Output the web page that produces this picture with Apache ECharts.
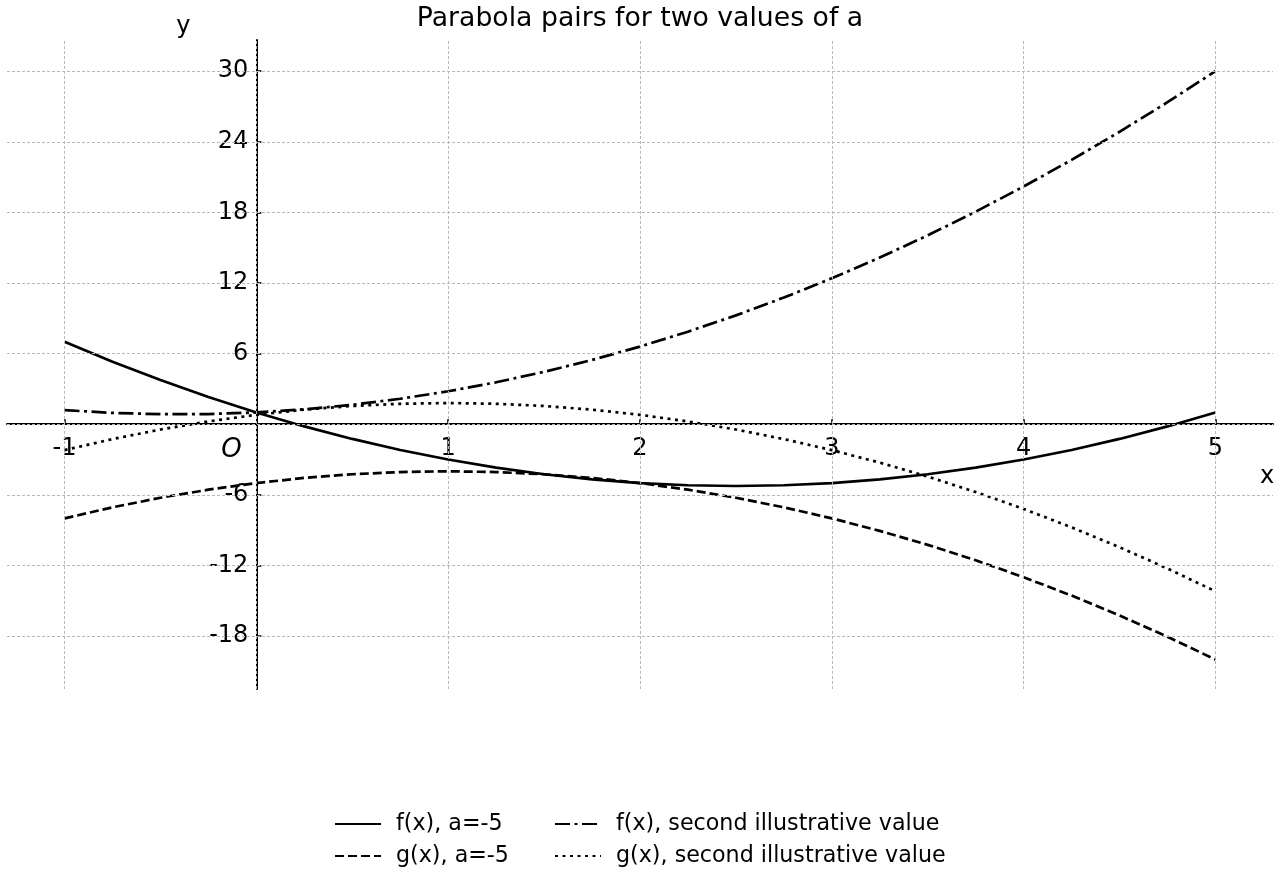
<!DOCTYPE html>
<html>
<head>
<meta charset="utf-8">
<script src="https://cdn.jsdelivr.net/npm/echarts@6/dist/echarts.min.js"></script>
<style>
  html, body { margin: 0; padding: 0; background: #fff; }
  #main { width: 1280px; height: 880px; }
</style>
</head>
<body>
<div id="main"></div>
<script>
// x positions where the curves are sampled
var xs = [-1, -0.75, -0.5, -0.25, 0, 0.25, 0.5, 0.75, 1, 1.25, 1.5, 1.75, 2,
  2.25, 2.5, 2.75, 3, 3.25, 3.5, 3.75, 4, 4.25, 4.5, 4.75, 5];

// f(x), a=-5
var fA = [7, 5.3125, 3.75, 2.3125, 1, -0.1875, -1.25, -2.1875, -3, -3.6875, -4.25,
  -4.6875, -5, -5.1875, -5.25, -5.1875, -5, -4.6875, -4.25, -3.6875, -3, -2.1875,
  -1.25, -0.1875, 1];
// g(x), a=-5
var gA = [-8, -7.0625, -6.25, -5.5625, -5, -4.5625, -4.25, -4.0625, -4, -4.0625,
  -4.25, -4.5625, -5, -5.5625, -6.25, -7.0625, -8, -9.0625, -10.25, -11.5625, -13,
  -14.5625, -16.25, -18.0625, -20];
// f(x), second value
var fB = [1.2, 0.9625, 0.85, 0.8625, 1, 1.2625, 1.65, 2.1625, 2.8, 3.5625, 4.45,
  5.4625, 6.6, 7.8625, 9.25, 10.7625, 12.4, 14.1625, 16.05, 18.0625, 20.2, 22.4625,
  24.85, 27.3625, 30];
// g(x), second value
var gB = [-2.2, -1.2625, -0.45, 0.2375, 0.8, 1.2375, 1.55, 1.7375, 1.8, 1.7375,
  1.55, 1.2375, 0.8, 0.2375, -0.45, -1.2625, -2.2, -3.2625, -4.45, -5.7625, -7.2,
  -8.7625, -10.45, -12.2625, -14.2];

var xTicks = [-1, 1, 2, 3, 4, 5];
var yTicks = [-18, -12, -6, 6, 12, 18, 24, 30];
var xGrid = [-1, 0, 1, 2, 3, 4, 5];
var yGrid = [-18, -12, -6, 0, 6, 12, 18, 24, 30];

var names = ['f(x), a=-5', 'g(x), a=-5', 'f(x), second illustrative value', 'g(x), second illustrative value'];

function pairs(ys) {
  return xs.map(function (x, i) { return [x, ys[i]]; });
}

var font = 'DejaVu Sans';
var W = 1280, H = 880;
var gl = 7, gr = 7, gt = 40, gb = 191;
var xMin = -1.3, xMax = 5.3, yMin = -22.5, yMax = 32.65;
// move the axes so they cross at the origin (offset from the grid edges)
var xAxisOffset = -(H - gt - gb) * (0 - yMin) / (yMax - yMin);
var yAxisOffset = -(W - gl - gr) * (0 - xMin) / (xMax - xMin);

var chart = echarts.init(document.getElementById('main'));

function curve(name, ys, dash) {
  return {
    name: name,
    type: 'line',
    data: pairs(ys),
    symbol: 'none',
    z: 3,
    lineStyle: { color: '#000', width: 2.7, type: dash, cap: 'butt' },
    itemStyle: { color: '#000' }
  };
}

// one legend box per entry, laid out as two columns
function legendItem(name, left, top) {
  return {
    left: left, top: top,
    data: [name],
    itemWidth: 46, itemHeight: 14,
    itemStyle: { opacity: 0 },
    textStyle: { fontFamily: font, fontSize: 22.2, color: '#000', padding: [0, 0, 0, 10] }
  };
}

var gridLines = [];
xGrid.forEach(function (v) { gridLines.push({ xAxis: v }); });
yGrid.forEach(function (v) { gridLines.push({ yAxis: v }); });

var option = {
  backgroundColor: '#fff',
  animation: false,
  textStyle: { fontFamily: font },
  title: {
    text: 'Parabola pairs for two values of a',
    left: 'center',
    top: 1,
    textStyle: { fontFamily: font, fontSize: 26.7, fontWeight: 'normal', color: '#000' }
  },
  legend: [
    legendItem(names[0], 329, 808),
    legendItem(names[1], 329, 840),
    legendItem(names[2], 549, 808),
    legendItem(names[3], 549, 840)
  ],
  grid: { left: gl, right: gr, top: gt, bottom: gb, containLabel: false, outerBoundsMode: 'none' },
  xAxis: {
    type: 'value',
    min: xMin,
    max: xMax,
    offset: xAxisOffset,
    name: 'x',
    nameLocation: 'end',
    nameGap: -13,
    nameMoveOverlap: false,
    nameTextStyle: { fontFamily: font, fontSize: 24, color: '#000', verticalAlign: 'top', padding: [41, 0, 0, 0] },
    axisLine: { onZero: false, lineStyle: { color: '#000', width: 2 } },
    axisTick: { show: true, inside: true, length: 5, customValues: xTicks, lineStyle: { color: '#000', width: 1.6 } },
    axisLabel: { customValues: xTicks, fontFamily: font, fontSize: 24, color: '#000', margin: 10, padding: [3, 0, 0, 0] },
    splitLine: { show: false }
  },
  yAxis: {
    type: 'value',
    min: yMin,
    max: yMax,
    offset: yAxisOffset,
    name: 'y',
    nameLocation: 'end',
    nameGap: 13,
    nameMoveOverlap: false,
    nameTextStyle: { fontFamily: font, fontSize: 24, color: '#000', align: 'center', verticalAlign: 'middle', padding: [0, 146, 0, 0] },
    axisLine: { onZero: false, lineStyle: { color: '#000', width: 2 } },
    axisTick: { show: true, inside: true, length: 5, customValues: yTicks, lineStyle: { color: '#000', width: 1.6 } },
    axisLabel: { customValues: yTicks, fontFamily: font, fontSize: 24, color: '#000', margin: 8, padding: [5, 0, 0, 0] },
    splitLine: { show: false }
  },
  series: [
    {
      // dashed grid + origin label
      type: 'line',
      data: [],
      z: 1,
      silent: true,
      markLine: {
        silent: true,
        symbol: 'none',
        label: { show: false },
        lineStyle: { color: '#b8b8b8', width: 1, type: [3, 2] },
        data: gridLines
      },
      markPoint: {
        symbolSize: 0,
        label: {
          show: true, formatter: 'O', offset: [-25, 26],
          fontFamily: font, fontSize: 26, fontStyle: 'italic', color: '#000'
        },
        data: [{ coord: [0, 0] }]
      }
    },
    curve(names[0], fA, 'solid'),
    curve(names[1], gA, [9, 4]),
    curve(names[2], fB, [15, 4.5, 3, 4.5]),
    curve(names[3], gB, [3, 4.5])
  ]
};

chart.setOption(option);
</script>
</body>
</html>
